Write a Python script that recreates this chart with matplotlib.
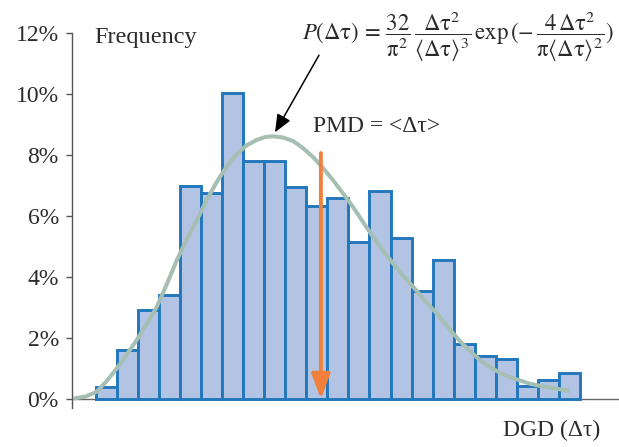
#!/usr/bin/env python3
"""DGD histogram with Maxwellian fit curve and PMD marker."""

import matplotlib
matplotlib.use("Agg")
import matplotlib.pyplot as plt
import matplotlib.ticker as mticker
import numpy as np

# ── data ────────────────────────────────────────────────────────────────────
dgd_bins = np.arange(23)  # bin index along the DGD axis
frequency_pct = [0.40, 1.60, 2.93, 3.40, 7.00, 6.75, 10.03, 7.81, 7.81, 6.96,
                 6.32, 6.61, 5.14, 6.83, 5.28, 3.53, 4.56, 1.80, 1.41, 1.30,
                 0.42, 0.64, 0.86]

fit_x = [-1.08, -0.5, 0.03, 0.5, 0.98, 1.45, 1.93, 2.4, 2.89, 3.36, 3.84,
         4.3, 4.79, 5.25, 5.74, 6.2, 6.69, 7.15, 7.64, 8.05, 8.43, 8.9,
         9.38, 9.85, 10.33, 10.8, 11.28, 11.75, 12.23, 12.7, 13.18, 13.65,
         14.13, 14.6, 15.08, 15.6, 16.19, 16.75, 17.30, 17.8, 18.25, 18.7,
         19.20, 19.7, 20.15, 20.6, 21.10, 21.6, 22.05, 22.53]
fit_y = [0.02, 0.08, 0.24, 0.58, 1.00, 1.45, 1.93, 2.45, 3.02, 3.76, 4.55,
         5.22, 5.86, 6.52, 7.12, 7.62, 8.03, 8.32, 8.50, 8.60, 8.62, 8.58,
         8.46, 8.23, 7.93, 7.57, 7.17, 6.74, 6.29, 5.80, 5.31, 4.86,
         4.44, 4.05, 3.68, 3.26, 2.81, 2.34, 1.90, 1.56, 1.28, 1.06,
         0.86, 0.72, 0.61, 0.51, 0.43, 0.37, 0.32, 0.27]

pmd_x = 10.69
pmd_top = 8.07

y_ticks = [0, 2, 4, 6, 8, 10, 12]

# ── colours ─────────────────────────────────────────────────────────────────
C_FILL = "#b3c3e4"
C_EDGE = "#2277bd"
C_FIT = "#a5bfb2"
C_PMD = "#f0803c"
C_TEXT = "#2b2b2b"

plt.rcParams["font.family"] = ["Liberation Serif", "DejaVu Serif"]
plt.rcParams["mathtext.fontset"] = "stix"

fig = plt.figure(figsize=(6.19, 4.47), dpi=100)
ax = fig.add_axes([0.1163, 0.0868, 0.8837, 0.8387])

ax.axhline(0, color="#666666", lw=1.0, zorder=1)
ax.bar(dgd_bins + 0.5, frequency_pct, width=1.0, color=C_FILL,
       edgecolor=C_EDGE, linewidth=2.1, zorder=2)
ax.plot(fit_x, fit_y, color=C_FIT, lw=2.9, solid_capstyle="butt",
        solid_joinstyle="round", zorder=3)

# PMD arrow (orange)
ax.annotate("", xy=(pmd_x, 0.0), xytext=(pmd_x, pmd_top),
            arrowprops=dict(arrowstyle="-|>,head_length=0.75,head_width=0.28",
                            color=C_PMD, lw=2.8, mutation_scale=20,
                            shrinkA=0, shrinkB=0),
            zorder=4)

# pointer from formula to the curve
ax.annotate("", xy=(8.51, 8.75), xytext=(10.6, 11.28),
            arrowprops=dict(arrowstyle="-|>,head_length=0.6,head_width=0.25",
                            color="black", lw=1.1, mutation_scale=18,
                            shrinkA=0, shrinkB=0),
            annotation_clip=False, zorder=5)

ax.set_xlim(-1.14, 24.86)
ax.set_ylim(-0.3, 12)
ax.set_yticks(y_ticks)
ax.yaxis.set_major_formatter(mticker.FuncFormatter(lambda v, _: f"{v:g}%"))
ax.tick_params(axis="y", length=4.5, width=1.0, pad=5, labelsize=17,
               colors="#555555", labelcolor=C_TEXT)
ax.set_xticks([])
for side in ("top", "right", "bottom"):
    ax.spines[side].set_visible(False)
ax.spines["left"].set_color("#555555")
ax.spines["left"].set_linewidth(1.0)

fig.text(0.153, 0.915, "Frequency", fontsize=17.5, color=C_TEXT,
         ha="left", va="center")
fig.text(0.488, 0.918,
         r"$P(\mathrm{Δτ})\,=\,\dfrac{32}{\mathrm{π}^2}\,"
         r"\dfrac{\mathrm{Δτ}^2}{\langle\mathrm{Δτ}\rangle^3}"
         r"\,\mathrm{exp}\,(\mathrm{-}\,\dfrac{4\,\mathrm{Δτ}^2}{\mathrm{π}\langle\mathrm{Δτ}\rangle^2})$",
         fontsize=16.4, color=C_TEXT, ha="left", va="center")
fig.text(0.506, 0.716, "PMD = <Δτ>", fontsize=17, color=C_TEXT,
         ha="left", va="center")
fig.text(0.969, 0.038, "DGD (Δτ)", fontsize=17, color=C_TEXT,
         ha="right", va="center")

fig.savefig("out.png", dpi=100)
